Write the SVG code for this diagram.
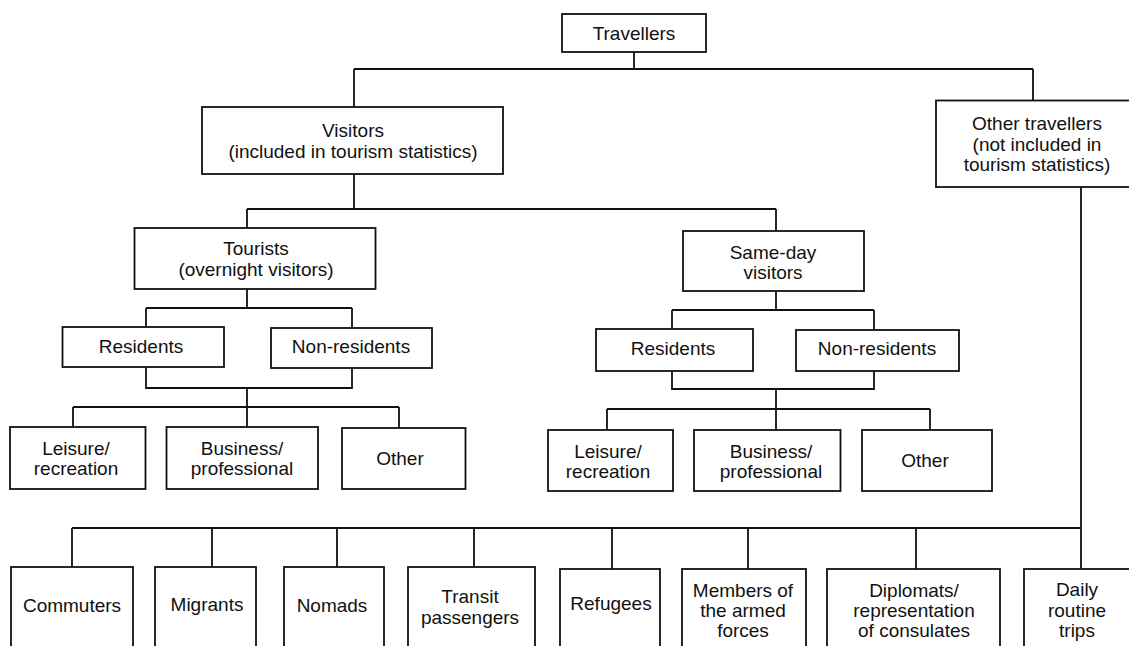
<svg xmlns="http://www.w3.org/2000/svg" width="1129" height="646" viewBox="0 0 1129 646">
<style>
.b{fill:#fff;stroke:#111;stroke-width:1.8}
.c{fill:none;stroke:#111;stroke-width:1.8}
text{font-family:"Liberation Sans",Arial,sans-serif;font-size:19px;fill:#111;text-anchor:middle;dominant-baseline:central}
</style>
<rect width="1129" height="646" fill="#fff"/>
<g id="connectors" class="c">
<path d="M634 52V69M354 69H1033M354 69V107M1033 69V100"/>
<path d="M354 174V209M247 209H776M247 209V228M776 209V231"/>
<path d="M247 289V308M146 308H352M146 308V327M352 308V328M146 367V388H352V368M247 388V407M73 407H399M73 407V427M247 407V427M399 407V428"/>
<path d="M776 291V310M672 310H874M672 310V329M874 310V330M672 371V389H874V371M776 389V409M607 409H930M607 409V430M776 409V430M930 409V430"/>
<path d="M1081 187V568M72 528H1081M72 528V567M212 528V567M337 528V567M474 528V567M612 528V569M748 528V569M916 528V569"/>
</g>
<g id="travellers"><rect class="b" x="562" y="14" width="144" height="38"/><text x="634" y="33">Travellers</text></g>
<g id="visitors"><rect class="b" x="202" y="107" width="301" height="67"/><text x="353" y="130">Visitors</text><text x="353" y="151">(included in tourism statistics)</text></g>
<g id="other-travellers"><rect class="b" x="936" y="100.5" width="210" height="86.5"/><text x="1037" y="123">Other travellers</text><text x="1037" y="144">(not included in</text><text x="1037" y="164">tourism statistics)</text></g>
<g id="tourists"><rect class="b" x="134.5" y="228" width="241" height="61"/><text x="256" y="248">Tourists</text><text x="256" y="269">(overnight visitors)</text></g>
<g id="same-day"><rect class="b" x="683" y="231" width="181" height="60"/><text x="773" y="252">Same-day</text><text x="773" y="272">visitors</text></g>
<g id="residents-t"><rect class="b" x="62.5" y="327" width="161.5" height="40"/><text x="141" y="346">Residents</text></g>
<g id="nonresidents-t"><rect class="b" x="271" y="328" width="161" height="40"/><text x="351" y="346">Non-residents</text></g>
<g id="residents-s"><rect class="b" x="596" y="329" width="157" height="42"/><text x="673" y="348">Residents</text></g>
<g id="nonresidents-s"><rect class="b" x="796" y="330" width="163" height="41"/><text x="877" y="348">Non-residents</text></g>
<g id="leisure-t"><rect class="b" x="10" y="427" width="135.5" height="62"/><text x="76" y="448">Leisure/</text><text x="76" y="468">recreation</text></g>
<g id="business-t"><rect class="b" x="166.5" y="427" width="151.5" height="62"/><text x="242" y="448">Business/</text><text x="242" y="468">professional</text></g>
<g id="other-t"><rect class="b" x="342" y="428" width="123.5" height="61"/><text x="400" y="458">Other</text></g>
<g id="leisure-s"><rect class="b" x="548" y="430" width="125" height="61"/><text x="608" y="451">Leisure/</text><text x="608" y="471">recreation</text></g>
<g id="business-s"><rect class="b" x="694" y="430" width="146.5" height="61"/><text x="771" y="451">Business/</text><text x="771" y="471">professional</text></g>
<g id="other-s"><rect class="b" x="862" y="430" width="130" height="61"/><text x="925" y="460">Other</text></g>
<g id="commuters"><rect class="b" x="11" y="567" width="122" height="95"/><text x="72" y="605">Commuters</text></g>
<g id="migrants"><rect class="b" x="155" y="567" width="101" height="95"/><text x="207" y="604">Migrants</text></g>
<g id="nomads"><rect class="b" x="284" y="567" width="100" height="95"/><text x="332" y="605">Nomads</text></g>
<g id="transit"><rect class="b" x="408" y="567" width="127" height="95"/><text x="470" y="596">Transit</text><text x="470" y="617">passengers</text></g>
<g id="refugees"><rect class="b" x="560" y="569" width="100" height="95"/><text x="611" y="603">Refugees</text></g>
<g id="armed-forces"><rect class="b" x="682" y="569" width="124" height="95"/><text x="743" y="590">Members of</text><text x="743" y="610">the armed</text><text x="743" y="630">forces</text></g>
<g id="diplomats"><rect class="b" x="827" y="569" width="173" height="95"/><text x="914" y="590">Diplomats/</text><text x="914" y="610">representation</text><text x="914" y="630">of consulates</text></g>
<g id="daily"><rect class="b" x="1024" y="569" width="120" height="95"/><text x="1077" y="589">Daily</text><text x="1077" y="610">routine</text><text x="1077" y="630">trips</text></g>
</svg>
